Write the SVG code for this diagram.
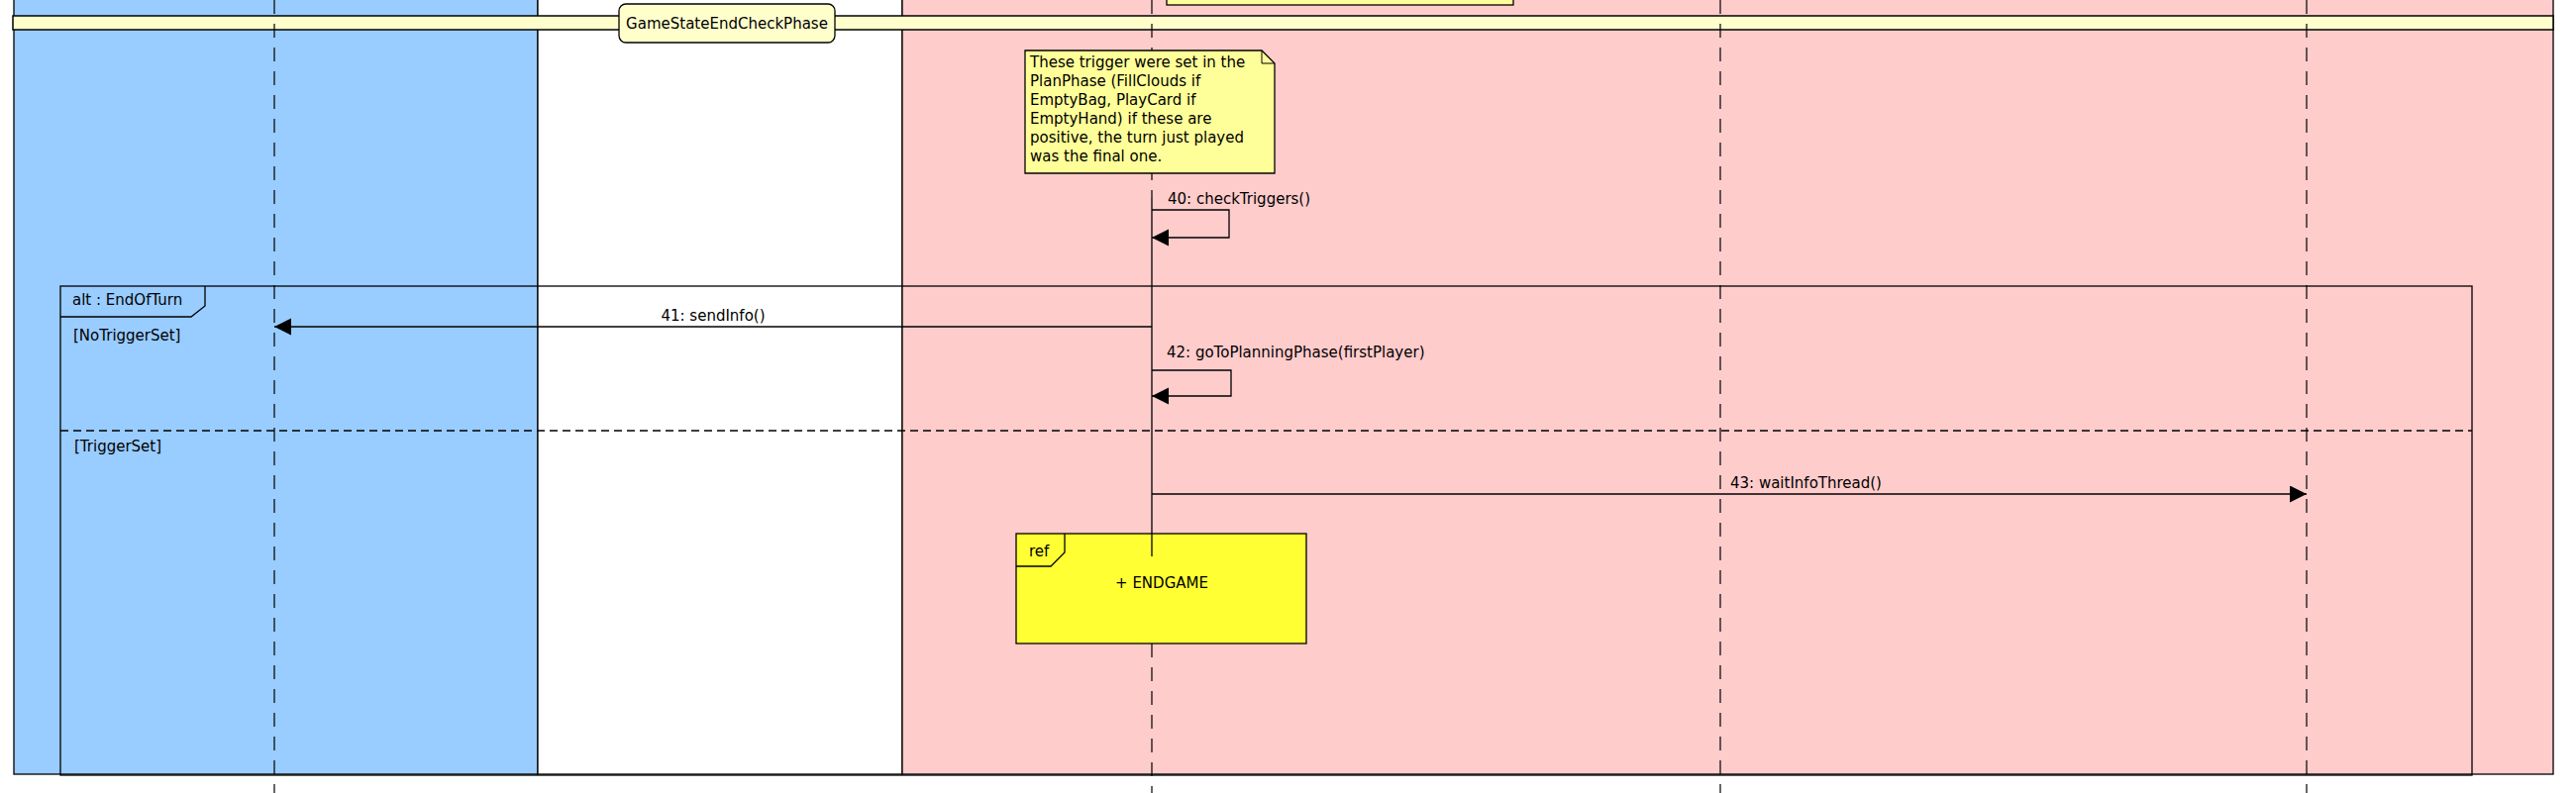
<svg xmlns="http://www.w3.org/2000/svg" width="2601" height="801" viewBox="0 0 2601 801">
<style>
text{font-family:"DejaVu Sans","Liberation Sans",sans-serif;font-size:15px;fill:#000}
.lane{stroke:#000;stroke-width:1.3}
.life{stroke:#000;stroke-width:1.2;stroke-dasharray:14 10;fill:none}
.msg{stroke:#000;stroke-width:1.3;fill:none}
.frag{fill:none;stroke:#000;stroke-width:1.3}
</style>
<defs>
<marker id="ah" markerUnits="userSpaceOnUse" markerWidth="18" markerHeight="18" refX="17" refY="8.5" orient="auto">
<path d="M0,0 L17,8.5 L0,17 z" fill="#000"/>
</marker>
</defs>
<rect x="0" y="0" width="2601" height="801" fill="#fff"/>
<g id="lane-blue"><rect class="lane" x="14" y="-10" width="529" height="792" fill="#99ccff"/></g>
<g id="lane-white"><rect class="lane" x="543" y="-10" width="368" height="792" fill="#ffffff"/></g>
<g id="lane-pink"><rect class="lane" x="911" y="-10" width="1667" height="792" fill="#ffcccc"/></g>
<g id="prev-note"><rect x="1178" y="-40" width="350" height="45" fill="#ffff99" stroke="#000" stroke-width="1.3"/></g>
<g id="phase-band">
<rect x="13" y="16" width="2565" height="14" fill="#ffffcc" stroke="#000" stroke-width="1.5"/>
<rect x="625" y="4" width="218" height="39" rx="7" fill="#ffffcc" stroke="#000" stroke-width="1.3"/>
<text x="734" y="29" text-anchor="middle">GameStateEndCheckPhase</text>
</g>
<g id="lifelines">
<line class="life" x1="277" y1="0" x2="277" y2="801"/>
<line class="life" x1="1163" y1="0" x2="1163" y2="200"/>
<line x1="1163" y1="200" x2="1163" y2="562" stroke="#000" stroke-width="1.3"/>
<line class="life" x1="1163" y1="650" x2="1163" y2="801"/>
<line class="life" x1="1737" y1="0" x2="1737" y2="801"/>
<line class="life" x1="2329" y1="0" x2="2329" y2="801"/>
</g>
<g id="note">
<path d="M1035,51 H1274 L1287,64 V175 H1035 Z" fill="#ffff99" stroke="#000" stroke-width="1.3"/>
<path d="M1274,51 V64 H1287" fill="none" stroke="#000" stroke-width="1"/>
<text x="1040" y="68">These trigger were set in the</text>
<text x="1040" y="87">PlanPhase (FillClouds if</text>
<text x="1040" y="106">EmptyBag, PlayCard if</text>
<text x="1040" y="125">EmptyHand) if these are</text>
<text x="1040" y="144">positive, the turn just played</text>
<text x="1040" y="163">was the final one.</text>
</g>
<g id="alt-fragment">
<rect class="frag" x="61" y="289" width="2435" height="494"/>
<path class="frag" d="M61,320 H193 L207,309 V289"/>
<text x="73" y="308">alt : EndOfTurn</text>
<text x="74" y="344">[NoTriggerSet]</text>
<line x1="61" y1="435" x2="2496" y2="435" stroke="#000" stroke-width="1.3" stroke-dasharray="8 5"/>
<text x="75" y="456">[TriggerSet]</text>
</g>
<g id="ref-endgame">
<rect x="1026" y="539" width="293" height="111" fill="#ffff33" stroke="#000" stroke-width="1.3"/>
<path d="M1026,572 H1061 L1075,558 V539" fill="none" stroke="#000" stroke-width="1.3"/>
<text x="1039" y="562">ref</text>
<text x="1173" y="594" text-anchor="middle">+ ENDGAME</text>
<line x1="1163" y1="539" x2="1163" y2="562" stroke="#000" stroke-width="1.3"/>
</g>
<g id="connectors">
<path class="msg" d="M1163,212 H1241 V240 H1163" marker-end="url(#ah)"/>
<text x="1179" y="206">40: checkTriggers()</text>
<line class="msg" x1="1163" y1="330" x2="277" y2="330" marker-end="url(#ah)"/>
<text x="720" y="324" text-anchor="middle">41: sendInfo()</text>
<path class="msg" d="M1163,374 H1243 V400 H1163" marker-end="url(#ah)"/>
<text x="1178" y="361">42: goToPlanningPhase(firstPlayer)</text>
<line class="msg" x1="1163" y1="499" x2="2329" y2="499" marker-end="url(#ah)"/>
<text x="1747" y="493">43: waitInfoThread()</text>
</g>
</svg>
